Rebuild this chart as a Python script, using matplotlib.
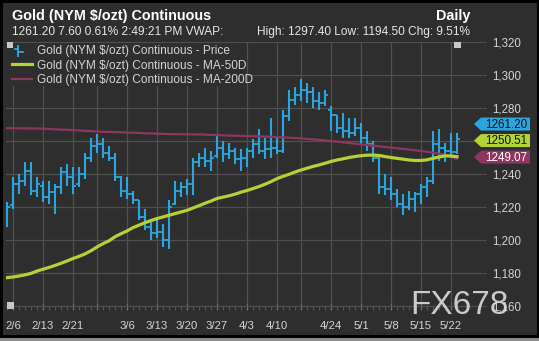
import numpy as np
import matplotlib.pyplot as plt
from matplotlib.patches import Polygon, Rectangle

# Gold (NYM $/ozt) continuous, daily bars 2/3 .. 5/23
dates = ['2/3', '2/6', '2/7', '2/8', '2/9', '2/10', '2/13', '2/14', '2/15', '2/16',
         '2/17', '2/21', '2/22', '2/23', '2/24', '2/27', '2/28', '3/1', '3/2', '3/3',
         '3/6', '3/7', '3/8', '3/9', '3/10', '3/13', '3/14', '3/15', '3/16', '3/17',
         '3/20', '3/21', '3/22', '3/23', '3/24', '3/27', '3/28', '3/29', '3/30', '3/31',
         '4/3', '4/4', '4/5', '4/6', '4/7', '4/10', '4/11', '4/12', '4/13', '4/17',
         '4/18', '4/19', '4/20', '4/21', '4/24', '4/25', '4/26', '4/27', '4/28', '5/1',
         '5/2', '5/3', '5/4', '5/5', '5/8', '5/9', '5/10', '5/11', '5/12', '5/15',
         '5/16', '5/17', '5/18', '5/19', '5/22', '5/23']

opens = [1216, 1221, 1234, 1236, 1242, 1230, 1233, 1226, 1229, 1232,
         1241, 1238, 1234, 1240, 1250, 1257, 1258, 1253, 1250, 1238,
         1230, 1228, 1224, 1214, 1208, 1204, 1205, 1200, 1222, 1230,
         1232, 1234, 1247, 1250, 1248, 1251, 1256, 1252, 1254, 1249,
         1250, 1254, 1258, 1254, 1255, 1256, 1254, 1275, 1285, 1288,
         1291, 1290, 1284, 1283, 1279, 1276, 1268, 1266, 1265, 1268,
         1262, 1258, 1250, 1232, 1231, 1228, 1222, 1220, 1225, 1228,
         1232, 1236, 1258, 1256, 1254, 1253.6]
highs = [1223, 1238, 1240, 1247, 1247, 1238, 1236, 1236, 1234, 1244,
         1246, 1244, 1244, 1253, 1262, 1264, 1262, 1257, 1253, 1239,
         1238, 1230, 1224, 1219, 1212, 1212, 1210, 1224, 1236, 1235,
         1237, 1250, 1253, 1256, 1254, 1264, 1260, 1259, 1256, 1255,
         1256, 1261, 1267, 1262, 1274, 1262, 1279, 1291, 1293, 1297.4,
         1295, 1293, 1290, 1291, 1281, 1276, 1277, 1274, 1274, 1271,
         1266, 1260, 1252, 1240, 1238, 1231, 1228, 1230, 1229, 1234,
         1238, 1266, 1267, 1259, 1265, 1265]
lows = [1208, 1219, 1228, 1233, 1227, 1226, 1223, 1222, 1216, 1228,
        1233, 1228, 1232, 1237, 1247, 1253, 1250, 1248, 1236, 1226,
        1225, 1222, 1212, 1206, 1200, 1201, 1196, 1194.5, 1221, 1226,
        1227, 1227, 1244, 1244, 1242, 1250, 1247, 1249, 1246, 1242,
        1244, 1250, 1252, 1249, 1250, 1252, 1253, 1272, 1282, 1284,
        1283, 1280, 1279, 1281, 1266, 1265, 1262, 1262, 1263, 1258,
        1254, 1247, 1228, 1227, 1224, 1220, 1215, 1218, 1217, 1222,
        1226, 1234, 1248, 1247, 1250, 1252]
closes = [1220, 1234, 1236, 1242, 1230, 1234, 1226, 1229, 1232, 1241,
          1238, 1233, 1240, 1250, 1257, 1258, 1253, 1250, 1238, 1230,
          1228, 1224, 1214, 1208, 1204, 1205, 1200, 1220, 1230, 1232,
          1234, 1247, 1250, 1248, 1250, 1256, 1252, 1254, 1249, 1250,
          1254, 1258, 1254, 1255, 1256, 1254, 1275, 1285, 1288, 1291,
          1290, 1284, 1283, 1288, 1276, 1268, 1266, 1265, 1268, 1262,
          1258, 1250, 1232, 1231, 1228, 1222, 1220, 1225, 1228, 1232,
          1236, 1258, 1256, 1254, 1253.6, 1261.2]

ma50 = [1177.2, 1177.6, 1178.2, 1178.9, 1179.8, 1181.2, 1182.3, 1183.4, 1184.6, 1185.9,
        1187.3, 1188.8, 1190.1, 1191.6, 1193.5, 1195.8, 1197.8, 1199.5, 1202.0, 1203.8,
        1205.5, 1207.5, 1209.0, 1210.5, 1211.8, 1213.0, 1214.0, 1215.0, 1216.0, 1217.0,
        1218.0, 1219.4, 1220.8, 1222.3, 1223.6, 1225.2, 1226.0, 1226.8, 1227.8, 1229.0,
        1230.0, 1231.2, 1232.4, 1233.8, 1235.4, 1237.2, 1238.6, 1239.8, 1241.2, 1242.4,
        1243.5, 1244.6, 1245.5, 1246.5, 1247.6, 1248.5, 1249.2, 1250.0, 1250.6, 1251.1,
        1251.4, 1251.5, 1251.2, 1250.6, 1250.0, 1249.5, 1249.0, 1248.5, 1248.2, 1248.2,
        1248.6, 1249.5, 1250.3, 1251.0, 1250.9, 1250.51]
ma200 = [1267.8, 1267.8, 1267.7, 1267.7, 1267.6, 1267.6, 1267.5, 1267.3, 1267.1, 1266.9,
         1266.8, 1266.6, 1266.4, 1266.2, 1266.0, 1265.8, 1265.6, 1265.5, 1265.4, 1265.3,
         1265.1, 1265.0, 1264.9, 1264.7, 1264.6, 1264.5, 1264.3, 1264.2, 1264.2, 1264.1,
         1264.1, 1264.0, 1264.0, 1263.9, 1263.7, 1263.6, 1263.4, 1263.3, 1263.2, 1263.1,
         1263.0, 1262.9, 1262.8, 1262.7, 1262.6, 1262.4, 1262.2, 1262.0, 1261.8, 1261.6,
         1261.3, 1261.0, 1260.7, 1260.3, 1260.0, 1259.6, 1259.2, 1258.8, 1258.4, 1258.0,
         1257.6, 1257.2, 1256.8, 1256.4, 1256.0, 1255.6, 1255.2, 1254.8, 1254.4, 1254.0,
         1253.5, 1253.0, 1252.3, 1251.5, 1250.5, 1249.07]

week_ticks = ['2/6', '2/13', '2/21', '2/27', '3/6', '3/13', '3/20', '3/27', '4/3',
              '4/10', '4/17', '4/24', '5/1', '5/8', '5/15', '5/22']
unlabeled = ['2/27', '4/17']
y_ticks = [1160, 1180, 1200, 1220, 1240, 1260, 1280, 1300, 1320]
y_hidden = [1260]  # sits behind the last-value tags

title = 'Gold (NYM $/ozt) Continuous'
info_left = '1261.20 7.60 0.61% 2:49:21 PM VWAP:'
info_right = 'High: 1297.40 Low: 1194.50 Chg: 9.51%'
legend_names = ['Gold (NYM $/ozt) Continuous - Price',
                'Gold (NYM $/ozt) Continuous - MA-50D',
                'Gold (NYM $/ozt) Continuous - MA-200D']

BG = '#2e2e2e'
GRID = '#505050'
BLUE = '#2ba5de'
GREEN = '#b2d235'
MAROON = '#8e3660'
TXT = '#d4d4d4'
FONT = 'Liberation Sans'

W, H = 539, 341
fig = plt.figure(figsize=(W / 100, H / 100), dpi=100, facecolor=BG)

# main plot area, pixel bounds 6..482 x, 42..310 y
x0, x1, yt, yb = 6, 482, 42, 310
ax = fig.add_axes([x0 / W, (H - yb) / H, (x1 - x0) / W, (yb - yt) / H])
ax.set_facecolor(BG)
ax.set_xlim((x0 - 7) / 6, (x1 - 7) / 6)
ax.set_ylim(1157.6, 1320)
for s in ax.spines.values():
    s.set_visible(False)

x = np.arange(len(dates))

# OHLC bars
ax.vlines(x, lows, highs, color=BLUE, lw=1.5, zorder=3)
ax.hlines(opens, x - 0.42, x, color=BLUE, lw=1.3, zorder=3)
ax.hlines(closes, x, x + 0.42, color=BLUE, lw=1.3, zorder=3)

# moving averages
ax.plot(x, ma200, color=MAROON, lw=1.6, zorder=4)
ax.plot(x, ma50, color=GREEN, lw=2.3, zorder=5)

# axes / grid
tick_pos = [dates.index(d) for d in week_ticks]
ax.set_xticks(tick_pos)
ax.set_xticklabels(['' if d in unlabeled else d for d in week_ticks])
ax.set_xticks(x, minor=True)
ax.tick_params(axis='x', which='major', direction='in', length=5, color='#707070',
               labelcolor=TXT, labelsize=8.2, pad=8)
ax.tick_params(axis='x', which='minor', direction='in', length=3, color='#606060')
ax.yaxis.tick_right()
ax.set_yticks(y_ticks)
ax.set_yticklabels(['' if v in y_hidden else f'{v:,}' for v in y_ticks])
ax.tick_params(axis='y', direction='out', length=3, color=GRID, labelcolor=TXT,
               labelsize=8.3, pad=4)
for lab in ax.get_xticklabels() + ax.get_yticklabels():
    lab.set_fontfamily(FONT)
ax.grid(True, color=GRID, lw=0.9, zorder=0)
ax.set_axisbelow(True)

# overlay in pixel coordinates for header, legend, labels
ov = fig.add_axes([0, 0, 1, 1], zorder=10)
ov.set_xlim(0, W)
ov.set_ylim(H, 0)
ov.axis('off')

ov.text(12, 16, title, color='white', fontsize=10.4, fontweight='bold',
        fontfamily=FONT, va='center', ha='left')
ov.text(470, 16, 'Daily', color='white', fontsize=10.4, fontweight='bold',
        fontfamily=FONT, va='center', ha='right')
ov.text(12, 32, info_left, color='#e6e6e6', fontsize=8.6, fontfamily=FONT,
        va='center', ha='left')
ov.text(470, 32, info_right, color='#e6e6e6', fontsize=8.6, fontfamily=FONT,
        va='center', ha='right')

# legend block (opaque over the grid)
ov.add_patch(Rectangle((6, 43), 240, 43, facecolor=BG, edgecolor='none', zorder=1))
ov.add_patch(Rectangle((7, 42), 6, 6, facecolor='#c8c8c8', edgecolor='none', zorder=2))
ov.plot([18, 18], [46, 56], color=BLUE, lw=1.4, zorder=2)
ov.plot([15, 18], [48.5, 48.5], color=BLUE, lw=1.3, zorder=2)
ov.plot([18, 23], [51.5, 51.5], color=BLUE, lw=1.3, zorder=2)
ov.plot([12, 32], [64, 64], color=GREEN, lw=2.3, zorder=2)
ov.plot([12, 32], [79, 79], color=MAROON, lw=1.6, zorder=2)
for i, name in enumerate(legend_names):
    ov.text(37, 51 + 14.5 * i, name, color=TXT, fontsize=8.6, fontfamily=FONT,
            va='center', ha='left', zorder=2)

# small handles
ov.add_patch(Rectangle((454, 42), 7, 6, facecolor='#c8c8c8', edgecolor='none'))
ov.add_patch(Rectangle((7, 302), 7, 7, facecolor='#c8c8c8', edgecolor='none'))

# last-value tags stacked on the right
tags = [(ma200[-1], MAROON, 'white'), (ma50[-1], GREEN, '#111111'),
        (closes[-1], BLUE, '#111111')]
prev = None
for val, col, tcol in tags:
    yc = H - ax.transData.transform((0, val))[1] - 2
    if prev is not None:
        yc = min(yc, prev - 16.5)
    prev = yc
    pts = [(474, yc), (481, yc - 6.5), (530, yc - 6.5), (530, yc + 6.5), (481, yc + 6.5)]
    ov.add_patch(Polygon(pts, closed=True, facecolor=col, edgecolor='none', zorder=3))
    ov.text(506, yc + 0.5, f'{val:.2f}', color=tcol, fontsize=8.4, fontfamily=FONT,
            va='center', ha='center', zorder=4)

# watermark
ov.text(459, 305, 'FX678', color='#dcdcdc', alpha=0.9, fontsize=24, fontfamily=FONT,
        va='center', ha='center', zorder=5)

# frame
ov.add_patch(Rectangle((0, 337), W, 4, facecolor='#8c8c8c', edgecolor='none', zorder=6))
ov.add_patch(Rectangle((1.2, 1.2), W - 2.4, 335, facecolor='none', edgecolor='black',
                       lw=2.2, zorder=6))

fig.savefig('out.png', dpi=100, facecolor=BG)
